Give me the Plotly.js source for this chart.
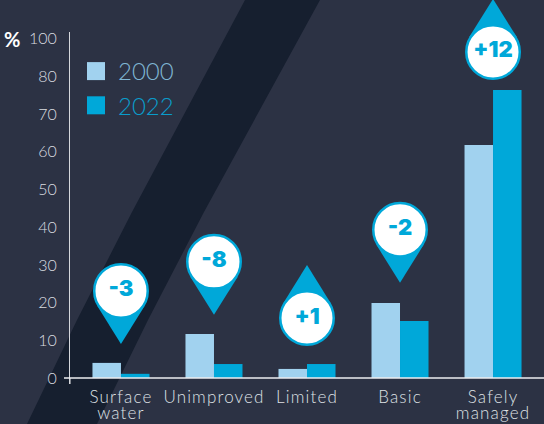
<!DOCTYPE html>
<html>
<head>
<meta charset="utf-8">
<script src="https://cdn.plot.ly/plotly-3.0.1.min.js"></script>
<style>
html,body{margin:0;padding:0;background:#2c3244;}
#chart{width:544px;height:424px;}
.xtick text{letter-spacing:1.15px;}
.legend .legendpoints path{transform:translate(18px,0) scale(1.5) !important;}
</style>
</head>
<body>
<div id="chart"></div>
<script>
const categories = ['Surface<br>water','Unimproved','Limited','Basic','Safely<br>managed'];
const series2000 = [4.0,11.7,2.4,19.9,61.8];
const series2022 = [1.1,3.7,3.7,15.1,76.4];
const changeLabels = ['-3','-8','+1','-2','+12'];
const changeDirections = [-1,-1,1,-1,1];
const pinCentres = [23.1,30.8,15.9,39.3,86.5];
const yTickVals = [0,10,20,30,40,50,60,70,80,90];
const yTickText = ['0','10','20','30','40','50','60','70','80','100'];

const FONT = 'Lato, sans-serif';
const W = 544, H = 424, ML = 70, MT = 0, MB = 40;
const PW = W - ML, PH = H - MT - MB;
const px = x => (x - ML) / PW;
const py = y => 1 - (y - MT) / PH;

const PIN_R = 28, PIN_TIP = 53;
const sinA = PIN_R / PIN_TIP, tx = PIN_R * Math.sqrt(1 - sinA * sinA), ty = PIN_R * sinA;

const band = [[245,0],[320,0],[204,212],[148,320],[97,424],[27,424],[77,320],[132,212]];
const bandPath = band.map((p,i)=>(i?'L':'M')+px(p[0])+','+py(p[1])).join(' ')+' Z';

const shapes = [
  {type:'path',xref:'paper',yref:'paper',path:bandPath,fillcolor:'#161f2f',line:{width:0},layer:'below'},
  {type:'line',xref:'paper',yref:'y',x0:px(64),x1:1,y0:0,y1:0,line:{color:'#eceef0',width:1.5},layer:'above'},
  {type:'line',xref:'x',xsizemode:'pixel',xanchor:-0.548,x0:0,x1:0,yref:'y',y0:-1.6,y1:0,line:{color:'#eceef0',width:1},layer:'above'}
];
categories.forEach((c,i)=>{
  const d = changeDirections[i];
  shapes.push({
    type:'path',xref:'x',yref:'y2',xsizemode:'pixel',ysizemode:'pixel',
    xanchor:i,yanchor:pinCentres[i],
    path:`M${-tx},${d*ty} L0,${d*PIN_TIP} L${tx},${d*ty} Z`,
    fillcolor:'#00a8d9',line:{width:0},layer:'between'
  });
});

const traces = [
  {type:'bar',name:'<span style="color:#7fb5d3">2000</span>',x:[0,1,2,3,4],y:series2000,marker:{color:'#a1d2ef'},offsetgroup:'a'},
  {type:'bar',name:'<span style="color:#0a9ccb">2022</span>',x:[0,1,2,3,4],y:series2022,marker:{color:'#00a8d9'},offsetgroup:'b'},
  {type:'scatter',mode:'markers+text',x:[0,1,2,3,4],y:pinCentres,yaxis:'y2',text:changeLabels,
   textposition:'middle center',textfont:{family:'Inter, sans-serif',size:22,color:'#00a8d9',weight:900},
   marker:{size:53.5,color:'#ffffff',line:{color:'#00a8d9',width:2.5}},showlegend:false,cliponaxis:false,hoverinfo:'skip'}
];

const layout = {
  width:W,height:H,
  margin:{l:ML,r:0,t:MT,b:MB,pad:0},
  paper_bgcolor:'#2c3244',plot_bgcolor:'rgba(0,0,0,0)',
  font:{family:FONT,color:'#dfe1e5'},
  barmode:'group',bargap:0.387,bargroupgap:0,
  showlegend:true,
  legend:{x:px(78),y:py(49),xanchor:'left',yanchor:'top',bgcolor:'rgba(0,0,0,0)',font:{family:FONT,size:24,weight:300},itemclick:false},
  xaxis:{range:[-0.548,4.548],tickmode:'array',tickvals:[0,1,2,3,4],ticktext:categories,
         tickfont:{family:FONT,size:17,color:'#dfe1e5',weight:300},showgrid:false,zeroline:false,showline:false,ticks:'',fixedrange:true,ticklabelstandoff:1},
  yaxis:{domain:[0,(384-32)/384],range:[-1.6,91.8],tickmode:'array',tickvals:yTickVals,ticktext:yTickText,
         tickfont:{family:FONT,size:16,color:'#dadce0',weight:300},showgrid:false,zeroline:false,showline:true,linecolor:'#d5d7dc',linewidth:1,ticks:'',ticklabelstandoff:9,fixedrange:true},
  yaxis2:{domain:[0,1],range:[-1.6,100.27],visible:false,anchor:'x',fixedrange:true},
  shapes:shapes,
  annotations:[{xref:'paper',yref:'paper',x:px(12),y:py(39),text:'%',showarrow:false,font:{family:FONT,size:20,color:'#ffffff',weight:700},xanchor:'center',yanchor:'middle'}]
};

Plotly.newPlot('chart',traces,layout,{displayModeBar:false,staticPlot:true}).then(()=>{
  document.querySelectorAll('.xtick tspan.line').forEach(t=>{ if(parseFloat(t.getAttribute('dy'))>0) t.setAttribute('dy','0.95em'); });
});
</script>
</body>
</html>
